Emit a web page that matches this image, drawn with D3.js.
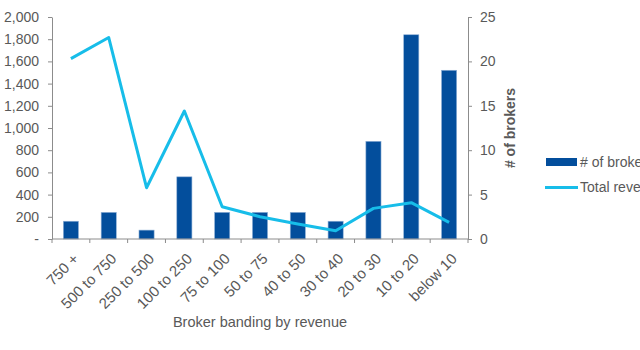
<!DOCTYPE html>
<html>
<head>
<meta charset="utf-8">
<script src="https://cdn.jsdelivr.net/npm/d3@7/dist/d3.min.js"></script>
<style>
  body { margin: 0; background: #fff; }
  svg { display: block; font-family: "Liberation Sans", Arial, sans-serif; }
  .axis text { fill: #595959; font-size: 13px; }
  .axis path, .axis line { stroke: #8c8c8c; }
</style>
</head>
<body>
<svg id="chart" width="640" height="350"></svg>
<script>
// Revenue bands, broker counts per band, and total revenue per band
const categories = ["750 +", "500 to 750", "250 to 500", "100 to 250", "75 to 100", "50 to 75",
                    "40 to 50", "30 to 40", "20 to 30", "10 to 20", "below 10"];
const brokerCounts = [2, 3, 1, 7, 3, 3, 3, 2, 11, 23, 19];
const totalRevenue = [1625, 1815, 462, 1153, 291, 201, 135, 75, 276, 327, 150];
const leftTicks = [0, 200, 400, 600, 800, 1000, 1200, 1400, 1600, 1800, 2000];
const rightTicks = [0, 5, 10, 15, 20, 25];
const seriesNames = ["# of brokers", "Total revenue"];

const barColor = "#034E9C";
const lineColor = "#17BDE9";

const svg = d3.select("#chart");
const m = { left: 52, right: 468, top: 17, bottom: 239 };

const x = d3.scaleBand().domain(categories).range([m.left, m.right]).paddingInner(0.6).paddingOuter(0.3);
const xCenter = d => x(d) + x.bandwidth() / 2;
const yLeft = d3.scaleLinear().domain([0, 2000]).range([m.bottom, m.top]);
const yRight = d3.scaleLinear().domain([0, 25]).range([m.bottom, m.top]);

// Bars: broker counts on the right axis
svg.append("g").selectAll("rect").data(categories).join("rect")
  .attr("x", d => x(d))
  .attr("width", x.bandwidth())
  .attr("y", (d, i) => yRight(brokerCounts[i]))
  .attr("height", (d, i) => m.bottom - yRight(brokerCounts[i]))
  .attr("fill", barColor)
  .attr("stroke", "#8fb0d6").attr("stroke-width", 0.6);

// Line: total revenue on the left axis
const line = d3.line().x((d, i) => xCenter(categories[i])).y(d => yLeft(d));
svg.append("path").datum(totalRevenue)
  .attr("d", line)
  .attr("fill", "none")
  .attr("stroke", lineColor)
  .attr("stroke-width", 3)
  .attr("stroke-linejoin", "round");

// Left axis
const fmt = d3.format(",");
const gl = svg.append("g").attr("class", "axis").attr("transform", `translate(${m.left},0)`)
  .call(d3.axisLeft(yLeft).tickValues(leftTicks).tickSize(4).tickSizeOuter(0).tickPadding(9)
    .tickFormat(d => d === 0 ? "-" : fmt(d)));
gl.selectAll("text").style("font-size", "14px");

// Right axis
const gr = svg.append("g").attr("class", "axis").attr("transform", `translate(${m.right},0)`)
  .call(d3.axisRight(yRight).tickValues(rightTicks).tickSize(4).tickSizeOuter(0).tickPadding(8));
gr.selectAll("text").style("font-size", "14px");

// Bottom axis: ticks sit on the band boundaries
const gx = svg.append("g").attr("class", "axis").attr("transform", `translate(0,${m.bottom})`);
gx.append("line").attr("x1", m.left).attr("x2", m.right).attr("stroke", "#8c8c8c");
const bounds = d3.range(categories.length + 1).map(i => m.left + i * (m.right - m.left) / categories.length);
gx.selectAll(".tk").data(bounds).join("line")
  .attr("x1", d => d).attr("x2", d => d).attr("y1", 0).attr("y2", 4).attr("stroke", "#8c8c8c");
gx.selectAll(".lbl").data(categories).join("text")
  .attr("transform", d => `translate(${xCenter(d) + 5},${17}) rotate(-45)`)
  .attr("text-anchor", "end")
  .attr("dy", "0.35em")
  .style("font-size", "15px")
  .text(d => d);

// Axis titles
svg.append("text").attr("x", 260).attr("y", 327).attr("text-anchor", "middle")
  .attr("fill", "#595959").style("font-size", "14.5px").text("Broker banding by revenue");
svg.append("text").attr("transform", `translate(515,128) rotate(-90)`).attr("text-anchor", "middle")
  .attr("fill", "#595959").style("font-size", "14px").style("font-weight", "bold").text("# of brokers");

// Legend
const lg = svg.append("g");
lg.append("rect").attr("x", 546).attr("y", 158).attr("width", 31).attr("height", 8).attr("fill", barColor);
lg.append("text").attr("x", 580).attr("y", 162).attr("dy", "0.35em").attr("fill", "#595959")
  .style("font-size", "14px").text(seriesNames[0]);
lg.append("line").attr("x1", 545).attr("x2", 578).attr("y1", 187.5).attr("y2", 187.5)
  .attr("stroke", lineColor).attr("stroke-width", 3);
lg.append("text").attr("x", 580).attr("y", 187.5).attr("dy", "0.35em").attr("fill", "#595959")
  .style("font-size", "14px").text(seriesNames[1]);
</script>
</body>
</html>
